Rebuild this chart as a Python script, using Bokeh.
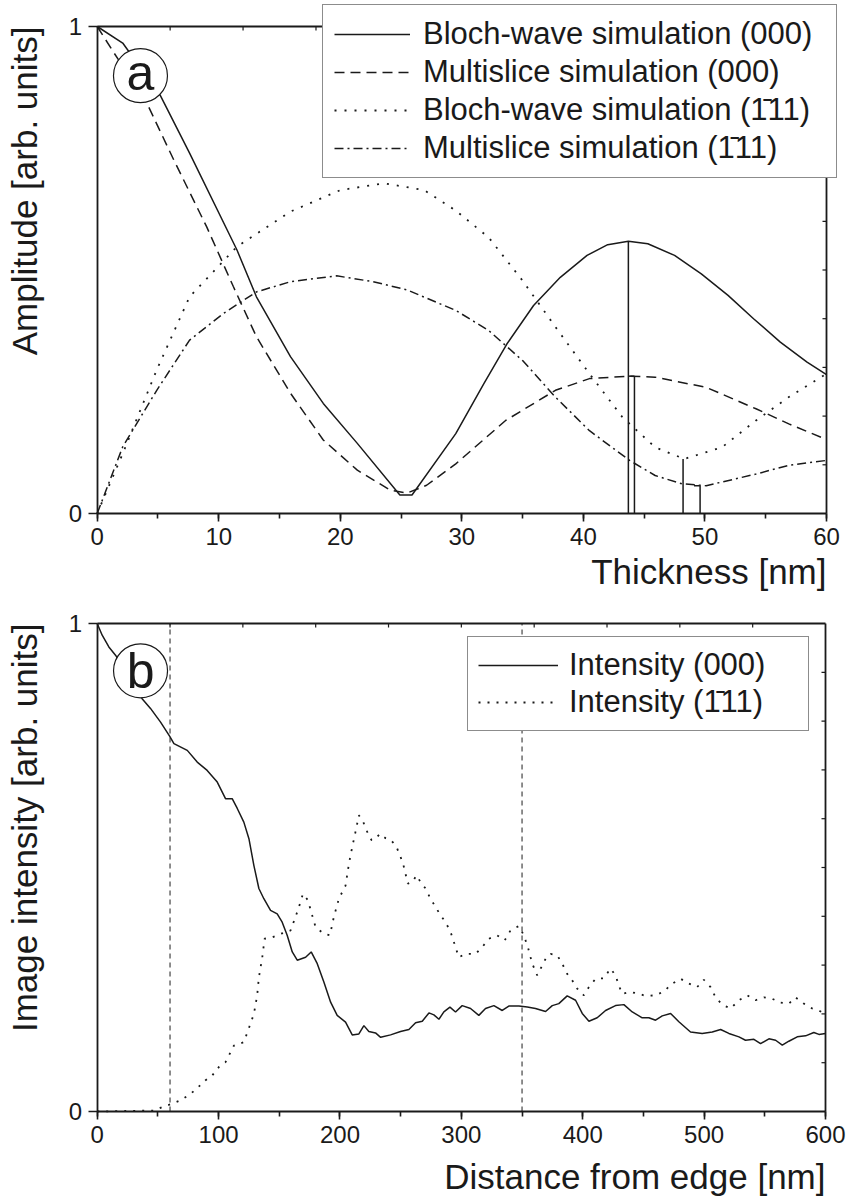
import math
from bokeh.plotting import figure
from bokeh.models import (Range1d, LinearAxis, FixedTicker, SingleIntervalTicker,
                          Label, Legend, LegendItem)
from bokeh.layouts import column
from bokeh.embed import file_html
from bokeh.resources import INLINE

FONT = "Liberation Sans"
INK = "#1a1a1a"
BAR1 = "1\u0304"

# ---------------- panel (a): amplitude vs thickness ----------------
bloch000_x = [0, 2.1, 5.2, 7.6, 11.5, 13.1, 15.9, 18.6, 21.4, 24.9, 25.9, 29.5, 31.8, 33.7,
              35.9, 38.1, 40.3, 42.0, 43.7, 45.3, 47.5, 49.7, 51.9, 54.0, 56.2, 58.4, 60]
bloch000_y = [1.0, 0.966, 0.858, 0.74, 0.541, 0.445, 0.322, 0.226, 0.144, 0.038, 0.038, 0.164,
              0.266, 0.348, 0.427, 0.485, 0.530, 0.552, 0.559, 0.554, 0.530, 0.492, 0.448,
              0.400, 0.352, 0.311, 0.285]
multi000_x = [0, 1.3, 4.1, 6.3, 9.0, 11.2, 13.1, 15.9, 18.6, 21.4, 24.1, 25.5, 27.1, 29.5,
              33.6, 37.7, 40.5, 43.7, 45.9, 50.1, 54.2, 56.9, 60]
multi000_y = [1.0, 0.949, 0.842, 0.726, 0.589, 0.466, 0.363, 0.247, 0.151, 0.089, 0.048, 0.042,
              0.058, 0.102, 0.191, 0.253, 0.277, 0.282, 0.280, 0.259, 0.215, 0.184, 0.152]
bloch111_x = [0, 2.1, 4.9, 7.6, 11.5, 15.9, 20.0, 23.6, 26.9, 29.5, 32.2, 35.0, 37.7, 40.5,
              43.2, 45.9, 48.3, 51.4, 54.2, 56.9, 60]
bloch111_y = [0, 0.123, 0.295, 0.445, 0.548, 0.62, 0.664, 0.678, 0.664, 0.622, 0.567, 0.478,
              0.383, 0.287, 0.198, 0.136, 0.112, 0.136, 0.191, 0.239, 0.287]
multi111_x = [0, 2.1, 4.9, 7.6, 10.4, 13.1, 15.9, 19.7, 22.7, 25.5, 29.5, 32.2, 35.0, 37.7,
              40.5, 43.8, 45.9, 48.1, 50.1, 54.2, 56.9, 60]
multi111_y = [0, 0.137, 0.253, 0.356, 0.411, 0.455, 0.476, 0.488, 0.476, 0.459, 0.417, 0.376,
              0.314, 0.239, 0.170, 0.109, 0.078, 0.061, 0.057, 0.081, 0.099, 0.109]
# vertical drop artefacts to the axis
drop_x = [43.7, 44.2, 48.2, 49.6]
drop_top = [0.559, 0.282, 0.112, 0.057]
cap_x0 = [43.7, 49.1]
cap_x1 = [44.2, 49.6]
cap_y = [0.282, 0.057]
top_ticks_a = [6, 12, 18, 24, 30, 36, 42, 48, 54]
right_ticks = [0.1, 0.2, 0.3, 0.4, 0.5, 0.6, 0.7, 0.8, 0.9]

labels_a = ["Bloch-wave simulation (000)", "Multislice simulation (000)",
            f"Bloch-wave simulation ({BAR1}11)", f"Multislice simulation ({BAR1}11)"]

# ---------------- panel (b): image intensity vs distance ----------------
int000_x = [0, 4.1, 9.6, 15.1, 37, 43.9, 52.2, 59.9, 63.2, 74.2, 82.4, 90.6, 98.9, 105.7,
            111.2, 115.4, 120.8, 125.0, 129.1, 133.2, 137.3, 142.8, 148.3, 152.4, 156.5, 160.7,
            164.8, 171.7, 176.3, 181.3, 186.8, 192.3, 197.7, 204.6, 210.1, 215.6, 219.7, 223.8,
            229.3, 233.5, 241.7, 249.9, 256.8, 262.3, 267.8, 273.3, 277.4, 281.5, 285.6, 290.6,
            295.2, 300.7, 307.6, 314.4, 319.9, 326.8, 333.7, 339.1, 347.4, 354.3, 361.1, 369.4,
            374.9, 380.3, 387.2, 394.1, 399.6, 405.1, 411.9, 418.8, 427.0, 433.9, 440.8, 449.0,
            454.5, 460.0, 465.5, 472.4, 479.2, 488.8, 498.4, 506.7, 513.6, 520.4, 528.7, 534.1,
            541.0, 546.5, 553.4, 558.9, 564.4, 569.8, 576.7, 583.6, 590.4, 594.6, 600]
int000_y = [1.0, 0.976, 0.952, 0.935, 0.846, 0.826, 0.798, 0.768, 0.754, 0.740, 0.716, 0.699,
            0.675, 0.641, 0.641, 0.621, 0.593, 0.559, 0.504, 0.457, 0.436, 0.412, 0.405, 0.388,
            0.361, 0.327, 0.310, 0.316, 0.327, 0.303, 0.265, 0.224, 0.197, 0.183, 0.157, 0.159,
            0.176, 0.164, 0.161, 0.152, 0.157, 0.164, 0.168, 0.182, 0.185, 0.202, 0.198, 0.189,
            0.204, 0.214, 0.204, 0.217, 0.211, 0.197, 0.211, 0.217, 0.207, 0.216, 0.216, 0.214,
            0.211, 0.205, 0.217, 0.221, 0.237, 0.228, 0.201, 0.185, 0.192, 0.207, 0.217, 0.219,
            0.204, 0.192, 0.192, 0.187, 0.196, 0.201, 0.184, 0.163, 0.160, 0.163, 0.168, 0.160,
            0.153, 0.146, 0.148, 0.139, 0.149, 0.146, 0.136, 0.144, 0.153, 0.155, 0.162, 0.158,
            0.160]
int111_x = [0, 46.7, 53.6, 61.8, 68.7, 76.9, 82.4, 89.3, 94.8, 100.2,
            105.7, 112.6, 120.8, 126.3, 129.1, 131.8, 133.2, 136.0, 137.9, 144.2,
            151.1, 159.3, 163.4, 166.2, 169.5, 173.6, 176.3, 179.9, 186.8, 191.7,
            195.0, 199.1, 204.6, 207.4, 210.1, 212.8, 215.6, 219.2, 222.5, 226.0,
            229.3, 232.9, 237.6, 242.2, 246.6, 249.9, 252.7, 255.9, 259.5, 263.1,
            266.4, 270.5, 274.6, 278.8, 282.9, 287.0, 291.1, 293.9, 297.9, 303.4,
            311.7, 317.2, 322.7, 329.5, 335.8, 340.5, 347.4, 351.5, 355.1, 358.4,
            362.5, 366.6, 369.4, 373.5, 379.0, 383.1, 387.2, 391.3, 395.4, 400.9,
            405.1, 410.6, 417.4, 422.9, 427.0, 429.8, 432.5, 439.4, 446.3, 451.7,
            460.0, 466.8, 473.7, 480.6, 487.5, 494.3, 499.8, 505.3, 509.4, 514.9,
            521.8, 528.7, 535.5, 542.4, 549.3, 556.1, 563.0, 569.8, 575.3, 582.2,
            589.1, 596.0, 600]
int111_y = [0, 0.002, 0.009, 0.016, 0.023, 0.036, 0.048, 0.064, 0.074, 0.091,
            0.101, 0.135, 0.142, 0.180, 0.200, 0.238, 0.275, 0.316, 0.354, 0.357,
            0.364, 0.371, 0.399, 0.419, 0.446, 0.433, 0.409, 0.378, 0.364, 0.361,
            0.399, 0.436, 0.463, 0.508, 0.542, 0.573, 0.607, 0.593, 0.573, 0.556,
            0.559, 0.569, 0.560, 0.556, 0.542, 0.522, 0.501, 0.467, 0.470, 0.484,
            0.470, 0.457, 0.436, 0.419, 0.402, 0.388, 0.368, 0.347, 0.316, 0.323,
            0.323, 0.337, 0.354, 0.361, 0.351, 0.371, 0.380, 0.361, 0.334, 0.303,
            0.279, 0.299, 0.313, 0.323, 0.320, 0.303, 0.282, 0.269, 0.252, 0.238,
            0.255, 0.272, 0.273, 0.293, 0.279, 0.258, 0.241, 0.245, 0.241, 0.237,
            0.238, 0.246, 0.262, 0.272, 0.262, 0.255, 0.270, 0.255, 0.234, 0.219,
            0.211, 0.228, 0.238, 0.228, 0.234, 0.231, 0.223, 0.221, 0.234, 0.221,
            0.211, 0.205, 0.200]
marker_lines_b = [60, 350]
top_ticks_b = [60, 120, 180, 240, 300, 360, 420, 480, 540]
labels_b = ["Intensity (000)", f"Intensity ({BAR1}11)"]

W = 850


def base_figure(H, px0, px1, xmax, py0, py1, xstep, top_ticks):
    """Frame fills the whole canvas; axes are pinned at fixed locations.
    px0/px1: canvas x of data 0 / xmax; py0/py1: canvas y of data 0 / 1."""
    sx = (px1 - px0) / xmax
    sy = (py0 - py1)
    xr = Range1d(-px0 / sx, xmax + (W - px1) / sx)
    yr = Range1d(-(H - py0) / sy, 1 + py1 / sy)
    p = figure(width=W, height=H, x_range=xr, y_range=yr,
               output_backend="svg", toolbar_location=None, min_border=0)
    p.outline_line_color = None
    p.xgrid.visible = False
    p.ygrid.visible = False
    p.background_fill_color = "white"
    p.border_fill_color = "white"

    xa = p.xaxis[0]
    xa.ticker = SingleIntervalTicker(interval=xstep, num_minor_ticks=2)
    xa.fixed_location = 0
    xa.bounds = (0, xmax)
    ya = p.yaxis[0]
    ya.ticker = FixedTicker(ticks=[0, 1], minor_ticks=[])
    ya.fixed_location = 0
    ya.bounds = (0, 1)
    for ax in (xa, ya):
        ax.axis_line_color = INK
        ax.axis_line_width = 1.8
        ax.major_tick_line_color = INK
        ax.major_tick_line_width = 1.6
        ax.minor_tick_line_color = INK
        ax.minor_tick_line_width = 1.6
        ax.major_tick_in = 0
        ax.minor_tick_in = 0
        ax.major_label_text_font = FONT
        ax.major_label_text_font_size = "24px"
        ax.major_label_text_color = INK
    xa.major_tick_out = 8
    xa.minor_tick_out = 5
    xa.major_label_standoff = 6
    ya.major_tick_out = 9
    ya.minor_tick_out = 0
    ya.major_label_standoff = 6

    # plain frame lines on top and right
    top_ax = LinearAxis(ticker=FixedTicker(ticks=[], minor_ticks=[]), fixed_location=1,
                        bounds=(0, xmax), axis_line_color=INK, axis_line_width=1.8)
    right_ax = LinearAxis(ticker=FixedTicker(ticks=[], minor_ticks=[]), fixed_location=xmax,
                          bounds=(0, 1), axis_line_color=INK, axis_line_width=1.8)
    p.add_layout(top_ax, "above")
    p.add_layout(right_ax, "right")
    # small inward ticks on the top and right frame lines (4 px long)
    tick_dy = 4 / sy
    tick_dx = 4 / sx
    p.segment(x0=top_ticks, x1=top_ticks, y0=[1] * len(top_ticks),
              y1=[1 - tick_dy] * len(top_ticks), line_color=INK, line_width=1.2)
    p.segment(x0=[xmax] * len(right_ticks), x1=[xmax - tick_dx] * len(right_ticks),
              y0=right_ticks, y1=right_ticks, line_color=INK, line_width=1.2)
    return p


def add_title_labels(p, xtext, ytext, xmax, x_off, y_off):
    p.add_layout(Label(x=xmax, y=0, text=xtext, text_align="right",
                       text_baseline="alphabetic", y_offset=x_off,
                       text_font=FONT, text_font_size="35px", text_color=INK))
    p.add_layout(Label(x=0, y=1, text=ytext, angle=math.pi / 2, text_align="right",
                       text_baseline="alphabetic", x_offset=y_off,
                       text_font=FONT, text_font_size="35px", text_color=INK))


def add_badge(p, cx, cy, letter, dy):
    p.scatter(x=[cx], y=[cy], size=54, marker="circle", fill_color="white",
              line_color=INK, line_width=1.2)
    p.add_layout(Label(x=cx, y=cy, text=letter, text_align="center",
                       text_baseline="alphabetic", y_offset=dy,
                       text_font=FONT, text_font_size="50px", text_color=INK))


# ---------- figure a ----------
pa = base_figure(600, 96.7, 826, 60, 513, 26, 10, top_ticks_a)
ra1 = pa.line(bloch000_x, bloch000_y, line_color=INK, line_width=1.5)
ra2 = pa.line(multi000_x, multi000_y, line_color=INK, line_width=1.5, line_dash="10 6")
ra3 = pa.line(bloch111_x, bloch111_y, line_color=INK, line_width=1.8, line_dash="2 8")
ra4 = pa.line(multi111_x, multi111_y, line_color=INK, line_width=1.5, line_dash="9 4 2 4")
pa.segment(x0=drop_x, y0=[0] * len(drop_x), x1=drop_x, y1=drop_top,
           line_color=INK, line_width=1.5)
pa.segment(x0=cap_x0, y0=cap_y, x1=cap_x1, y1=cap_y, line_color=INK, line_width=1.5)
add_badge(pa, 3.56, 0.899, "a", 3)
add_title_labels(pa, "Thickness [nm]", "Amplitude [arb. units]", 60, -58, -73)

leg_a = Legend(items=[LegendItem(label=l, renderers=[r]) for l, r in
                      zip(labels_a, [ra1, ra2, ra3, ra4])],
               location=(322, 422), glyph_width=76, glyph_height=20, label_standoff=13,
               padding=11, spacing=2, label_width=402,
               label_text_font=FONT, label_text_font_size="31px", label_text_color=INK,
               border_line_color=INK, border_line_width=1.2,
               background_fill_color="white", background_fill_alpha=1.0, margin=0)
pa.add_layout(leg_a, "center")

# ---------- figure b ----------
pb = base_figure(598, 96.7, 825, 600, 511, 23, 100, top_ticks_b)
pb.segment(x0=marker_lines_b, x1=marker_lines_b, y0=[0] * len(marker_lines_b),
           y1=[1] * len(marker_lines_b), line_color="#333333", line_width=1.1,
           line_dash="5 4")
rb1 = pb.line(int000_x, int000_y, line_color=INK, line_width=1.5)
rb2 = pb.line(int111_x, int111_y, line_color=INK, line_width=1.8, line_dash="2 7")
add_badge(pb, 35.7, 0.903, "b", 0)
add_title_labels(pb, "Distance from edge [nm]", "Image intensity [arb. units]", 600, -65, -73)

leg_b = Legend(items=[LegendItem(label=l, renderers=[r]) for l, r in
                      zip(labels_b, [rb1, rb2])],
               location=(467, 467), glyph_width=80, glyph_height=20, label_standoff=11,
               padding=10, spacing=1, label_width=229,
               label_text_font=FONT, label_text_font_size="31px", label_text_color=INK,
               border_line_color=INK, border_line_width=1.2,
               background_fill_color="white", background_fill_alpha=1.0, margin=0)
pb.add_layout(leg_b, "center")

layout = column(pa, pb, spacing=0)
open("out.html", "w").write(file_html(layout, INLINE))
